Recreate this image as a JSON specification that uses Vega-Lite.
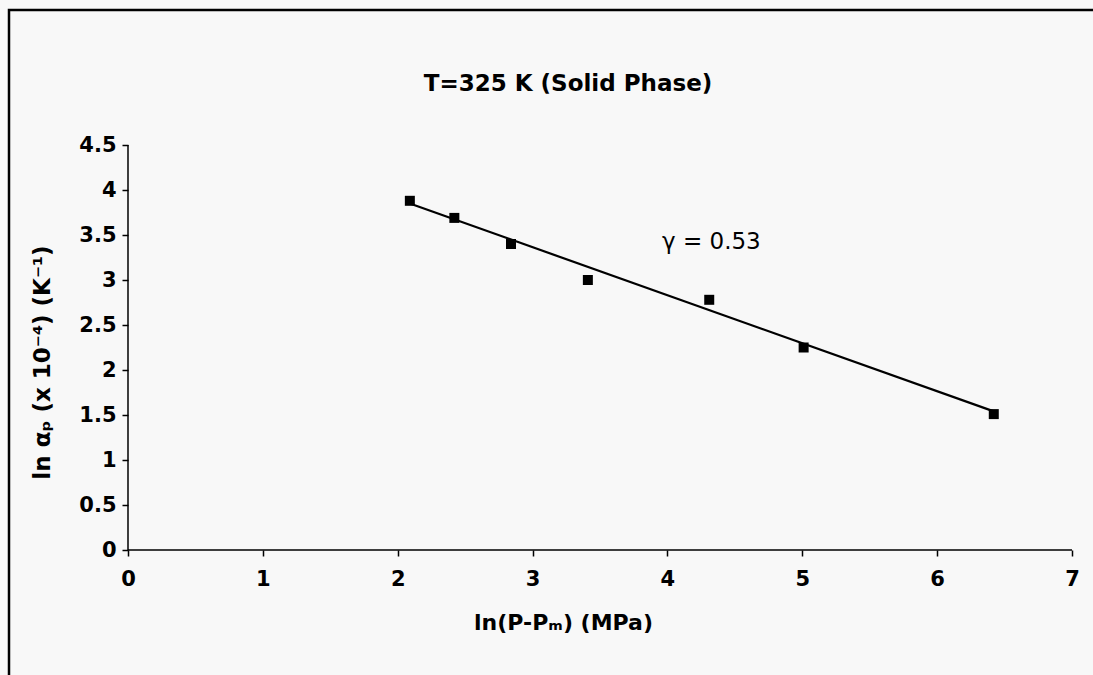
{
  "$schema": "https://vega.github.io/schema/vega-lite/v6.json",
  "width": 1100,
  "height": 675,
  "autosize": {"type": "none"},
  "padding": {"left": 9, "top": 10, "right": -16, "bottom": -10},
  "background": "#f8f8f8",
  "config": {
    "view": {"stroke": "black", "strokeWidth": 2.5},
    "font": "DejaVu Sans"
  },
  "title": {
    "text": "T=325 K (Solid Phase)",
    "font": "DejaVu Sans",
    "fontSize": 23,
    "fontWeight": "bold",
    "color": "black",
    "anchor": "middle",
    "frame": "group",
    "offset": 0,
    "baseline": "middle",
    "dy": 97,
    "dx": 9
  },
  "encoding": {
    "x": {
      "field": "x",
      "type": "quantitative",
      "scale": {"domain": [-0.8824, 7.2744], "nice": false, "zero": false},
      "axis": {
        "values": [0, 1, 2, 3, 4, 5, 6, 7],
        "format": "d",
        "offset": -135,
        "domain": false,
        "grid": false,
        "ticks": true,
        "tickSize": 6,
        "tickColor": "black",
        "tickWidth": 1.5,
        "labelFont": "DejaVu Sans",
        "labelFontWeight": "bold",
        "labelFontSize": 21,
        "labelColor": "black",
        "labelPadding": 12,
        "labelFlush": false,
        "labelOverlap": false,
        "labelBound": false,
        "title": "ln(P-Pₘ) (MPa)",
        "titleFont": "DejaVu Sans",
        "titleFontWeight": "bold",
        "titleFontSize": 22,
        "titleColor": "black",
        "titleX": 554,
        "titleY": 72,
        "titleAlign": "center",
        "titleBaseline": "middle"
      }
    },
    "y": {
      "field": "y",
      "type": "quantitative",
      "scale": {"domain": [-1.5, 6], "nice": false, "zero": false},
      "axis": {
        "values": [0, 0.5, 1, 1.5, 2, 2.5, 3, 3.5, 4, 4.5],
        "format": ".1~f",
        "offset": -119,
        "domain": false,
        "grid": false,
        "ticks": true,
        "tickSize": 6,
        "tickColor": "black",
        "tickWidth": 1.5,
        "labelFont": "DejaVu Sans",
        "labelFontWeight": "bold",
        "labelFontSize": 21,
        "labelColor": "black",
        "labelPadding": 6,
        "labelFlush": false,
        "labelOverlap": false,
        "labelBound": false,
        "title": "ln αₚ (x 10⁻⁴)  (K⁻¹)",
        "titleFont": "DejaVu Sans",
        "titleFontWeight": "bold",
        "titleFontSize": 23,
        "titleColor": "black",
        "titleAngle": -90,
        "titleX": -86,
        "titleY": 352,
        "titleAlign": "center",
        "titleBaseline": "middle"
      }
    }
  },
  "layer": [
    {
      "data": {"values": [
        {"x": 0, "y": 0, "x2": 7, "y2": 0},
        {"x": 0, "y": 0, "x2": 0, "y2": 4.5}
      ]},
      "mark": {"type": "rule", "color": "black", "strokeWidth": 1.5},
      "encoding": {
        "x2": {"field": "x2"},
        "y2": {"field": "y2"}
      }
    },
    {
      "data": {"values": [
        {"x": 2.09, "y": 3.85},
        {"x": 6.42, "y": 1.54}
      ]},
      "mark": {"type": "line", "color": "black", "strokeWidth": 2.2}
    },
    {
      "data": {"values": [
        {"x": 2.09, "y": 3.88},
        {"x": 2.42, "y": 3.69},
        {"x": 2.84, "y": 3.40},
        {"x": 3.41, "y": 3.00},
        {"x": 4.31, "y": 2.78},
        {"x": 5.01, "y": 2.25},
        {"x": 6.42, "y": 1.51}
      ]},
      "mark": {"type": "square", "color": "black", "filled": true, "opacity": 1, "size": 100}
    },
    {
      "data": {"values": [
        {"x": 3.96, "y": 3.42, "label": "γ = 0.53"}
      ]},
      "mark": {"type": "text", "align": "left", "baseline": "middle", "font": "DejaVu Sans", "fontSize": 23, "color": "black"},
      "encoding": {"text": {"field": "label"}}
    }
  ]
}
